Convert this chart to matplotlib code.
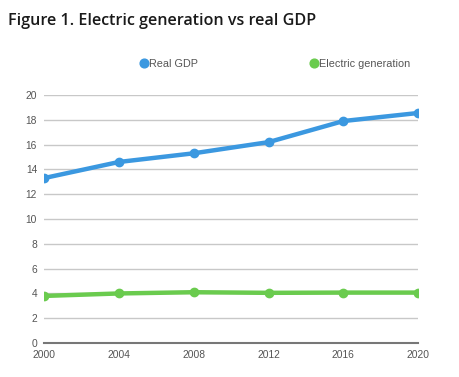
"""Figure 1 — Electric generation vs real GDP, 2000–2020."""

import matplotlib
matplotlib.use("Agg")
import matplotlib.pyplot as plt

YEARS = [2000, 2004, 2008, 2012, 2016, 2020]
REAL_GDP = [13.3, 14.6, 15.3, 16.2, 17.9, 18.55]
ELECTRIC_GEN = [3.8, 4.0, 4.1, 4.05, 4.07, 4.07]
Y_TICKS = list(range(0, 21, 2))

BLUE = "#3b98e0"
GREEN = "#6acb4e"
GRID = "#c8c8c8"
TICK_COLOR = "#555555"


def main():
    fig = plt.figure(figsize=(4.59, 3.77), dpi=100)
    ax = fig.add_axes([0.096, 0.090, 0.815, 0.658])

    line_gdp, = ax.plot(YEARS, REAL_GDP, color=BLUE, lw=3.2, marker="o",
                        ms=6, label="Real GDP", zorder=3, solid_capstyle="round")
    line_gen, = ax.plot(YEARS, ELECTRIC_GEN, color=GREEN, lw=3.2, marker="o",
                        ms=6, label="Electric generation", zorder=3,
                        solid_capstyle="round")

    ax.set_xlim(2000, 2020)
    ax.set_ylim(0, 20)
    ax.set_xticks(YEARS)
    ax.set_yticks(Y_TICKS)
    ax.grid(axis="y", color=GRID, lw=1)
    ax.set_axisbelow(True)
    for s in ["top", "right", "left"]:
        ax.spines[s].set_visible(False)
    ax.spines["bottom"].set_color("#777777")
    ax.spines["bottom"].set_linewidth(1.5)
    ax.tick_params(length=0, labelsize=7.4, labelcolor=TICK_COLOR, pad=5)
    for lbl in ax.get_xticklabels() + ax.get_yticklabels():
        lbl.set_family("Liberation Sans")

    fig.text(0.017, 0.945, "Figure 1. Electric generation vs real GDP",
             family="Open Sans", weight="semibold", fontsize=11.6,
             color="#1a1a1a", va="center", ha="left")

    # legend sits in two separate spots above the plot, like the original
    common = dict(frameon=False, handlelength=0, handletextpad=0.45,
                  markerscale=1.05, prop={"family": "Liberation Sans", "size": 7.8})
    leg1 = fig.legend(handles=[line_gdp], loc="center left",
                      bbox_to_anchor=(0.293, 0.830), **common)
    leg2 = fig.legend(handles=[line_gen], loc="center left",
                      bbox_to_anchor=(0.663, 0.830), **common)
    for leg in (leg1, leg2):
        for t in leg.get_texts():
            t.set_color("#555555")

    fig.savefig("out.png", dpi=100)
    plt.close(fig)


if __name__ == "__main__":
    main()
